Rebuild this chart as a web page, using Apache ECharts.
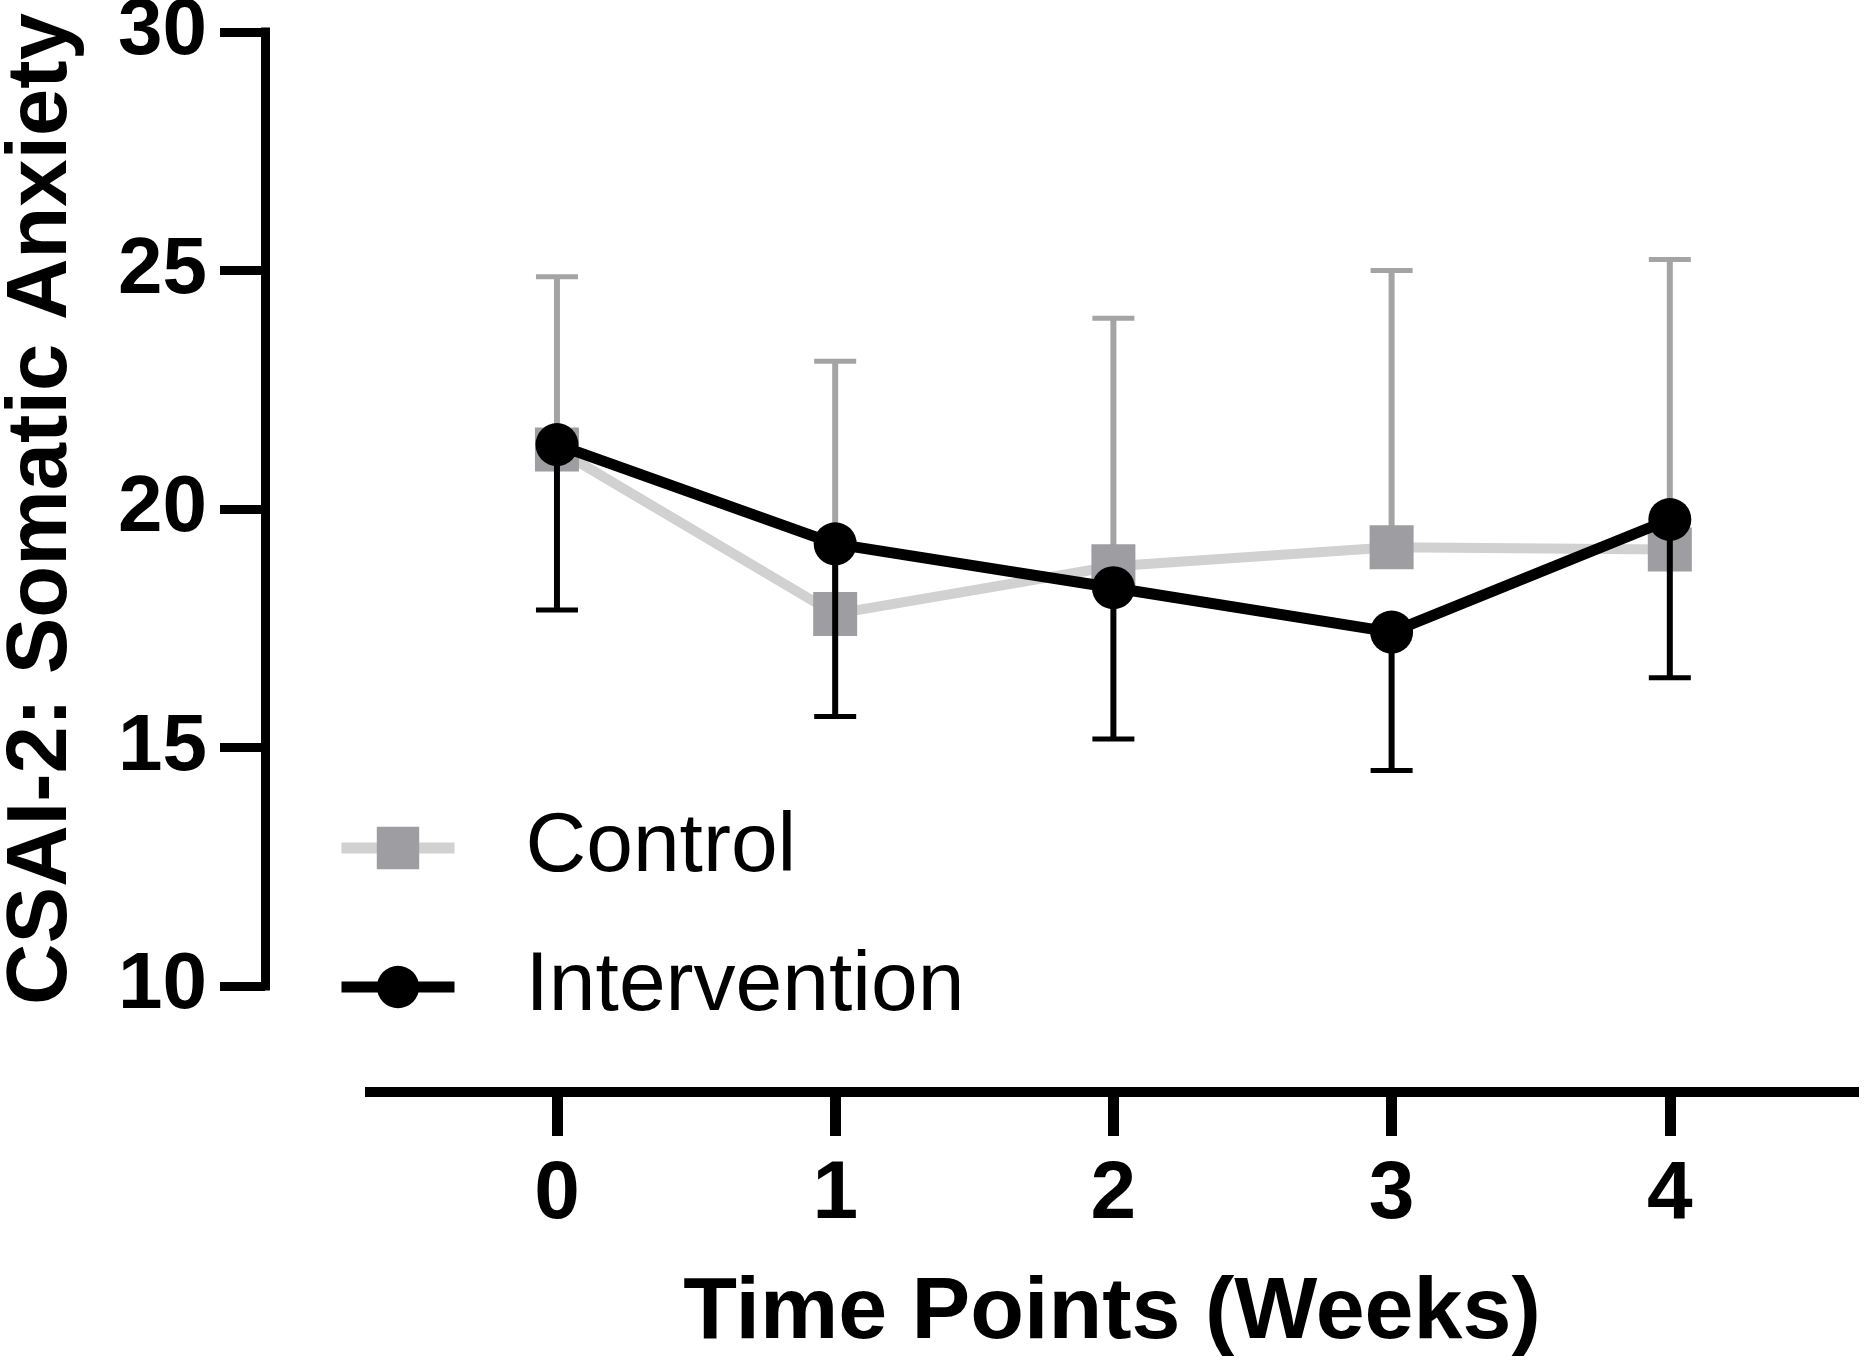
<!DOCTYPE html>
<html>
<head>
<meta charset="utf-8">
<script src="https://cdn.jsdelivr.net/npm/echarts@6/dist/echarts.min.js"></script>
<style>
html,body{margin:0;padding:0;background:#fff;}
#chart{width:1867px;height:1372px;}
</style>
</head>
<body>
<div id="chart"></div>
<script>
// ---- data ----
const weeks = [0, 1, 2, 3, 4];
const xTickValues = [0, 1, 2, 3, 4];
const controlMean = [21.25, 17.8, 18.8, 19.2, 19.15];
const controlUpper = [24.87, 23.1, 24.0, 25.0, 25.23];
const interventionMean = [21.35, 19.27, 18.35, 17.42, 19.78];
const interventionLower = [17.88, 15.65, 15.18, 14.52, 16.46];
const seriesNames = ['Control', 'Intervention'];
const xTitle = 'Time Points (Weeks)';
const yTitle = 'CSAI-2: Somatic Anxiety';

const FONT = '"Liberation Sans", Arial, Helvetica, sans-serif';
const C_LINE = '#d1d1d1';
const C_SQ = '#9e9ea2';
const C_ERR = '#a4a4a4';
const C_BLK = '#000000';

function errSeries(name, mean, bound, color, z) {
  return {
    name: name,
    type: 'custom',
    z: z,
    silent: true,
    data: weeks.map((w, i) => [w, mean[i], bound[i]]),
    renderItem: function (params, api) {
      const p1 = api.coord([api.value(0), api.value(1)]);
      const p2 = api.coord([api.value(0), api.value(2)]);
      const hw = 21;
      return {
        type: 'group',
        children: [
          { type: 'line', shape: { x1: p1[0], y1: p1[1], x2: p2[0], y2: p2[1] },
            style: { stroke: color, lineWidth: 6 } },
          { type: 'line', shape: { x1: p2[0] - hw, y1: p2[1], x2: p2[0] + hw, y2: p2[1] },
            style: { stroke: color, lineWidth: 5 } }
        ]
      };
    }
  };
}

const chart = echarts.init(document.getElementById('chart'), null, { renderer: 'canvas' });
chart.setOption({
  backgroundColor: '#ffffff',
  animation: false,
  textStyle: { fontFamily: FONT },
  grid: { left: 365, right: 8, top: 32, bottom: 386, containLabel: false, outerBoundsMode: 'none' },
  legend: {
    orient: 'vertical',
    left: 331,
    top: 801,
    itemWidth: 113,
    itemHeight: 53,
    itemGap: 55,
    data: seriesNames,
    lineStyle: { width: 11 },
    textStyle: { fontFamily: FONT, fontSize: 84, color: '#000', padding: [0, 0, 0, 66] },
    selectedMode: false
  },
  xAxis: {
    type: 'value',
    min: -0.69,
    max: 4.68,
    offset: 106,
    name: xTitle,
    nameLocation: 'middle',
    nameGap: 178,
    nameTextStyle: { fontFamily: FONT, fontSize: 88, fontWeight: 'bold', color: '#000' },
    splitLine: { show: false },
    axisLine: { show: true, onZero: false, lineStyle: { color: '#000', width: 10, cap: 'butt' } },
    axisTick: { show: true, customValues: xTickValues, length: 44, lineStyle: { color: '#000', width: 11 } },
    axisLabel: { show: true, customValues: xTickValues, margin: 62, fontFamily: FONT, fontSize: 82, fontWeight: 'bold', color: '#000' }
  },
  yAxis: {
    type: 'value',
    min: 10,
    max: 30,
    interval: 5,
    offset: 100,
    name: yTitle,
    nameLocation: 'middle',
    nameGap: 180,
    nameTextStyle: { fontFamily: FONT, fontSize: 85, fontWeight: 'bold', color: '#000' },
    splitLine: { show: false },
    axisLine: { show: true, onZero: false, lineStyle: { color: '#000', width: 9, cap: 'square' } },
    axisTick: { show: true, length: 45, lineStyle: { color: '#000', width: 9 } },
    axisLabel: { margin: 58, fontFamily: FONT, fontSize: 80, fontWeight: 'bold', color: '#000' }
  },
  series: [
    errSeries('controlErr', controlMean, controlUpper, C_ERR, 1),
    {
      name: 'Control',
      type: 'line',
      z: 2,
      data: weeks.map((w, i) => [w, controlMean[i]]),
      symbol: 'rect',
      symbolSize: 44,
      lineStyle: { color: C_LINE, width: 10 },
      itemStyle: { color: C_SQ },
      emphasis: { disabled: true }
    },
    errSeries('interventionErr', interventionMean, interventionLower, C_BLK, 3),
    {
      name: 'Intervention',
      type: 'line',
      z: 4,
      data: weeks.map((w, i) => [w, interventionMean[i]]),
      symbol: 'circle',
      symbolSize: 43,
      lineStyle: { color: C_BLK, width: 11 },
      itemStyle: { color: C_BLK },
      emphasis: { disabled: true }
    }
  ]
});
</script>
</body>
</html>
